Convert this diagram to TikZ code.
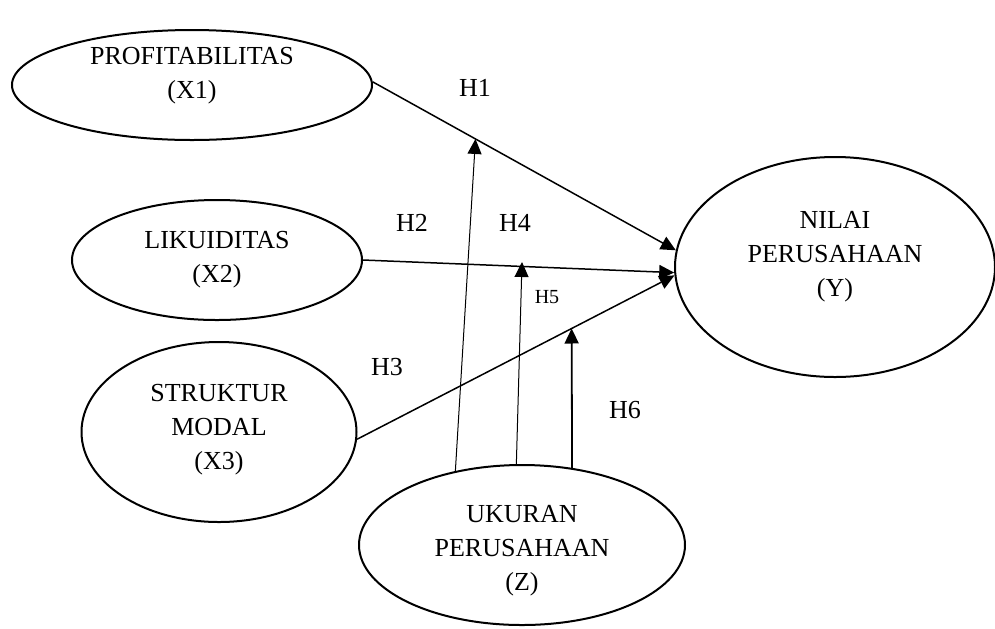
\documentclass[tikz,border=0pt]{standalone}
\usepackage{fontspec}
\setmainfont{Liberation Serif}
\usetikzlibrary{shapes.geometric,arrows.meta}
\begin{document}
\begin{tikzpicture}[x=0.5pt,y=-0.5pt,
  oval/.style={draw,ellipse,line width=1pt,inner sep=0pt},
  txt/.style={align=center,font=\fontsize{13}{17}\selectfont,inner sep=0pt},
  hlab/.style={font=\fontsize{13}{15}\selectfont,inner sep=0pt},
  hsmall/.style={font=\fontsize{10}{12}\selectfont,inner sep=0pt},
  tip/.style={-{Triangle[length=7.5pt,width=7pt]}},
  conn/.style={tip,line width=0.75pt},
  thinconn/.style={tip,line width=0.5pt},
  thickconn/.style={tip,line width=0.9pt}]
\useasboundingbox (0,0) rectangle (995,628);
% ellipses
\node[oval,minimum width=180pt,minimum height=55pt] (x1) at (192,85) {};
\node[oval,minimum width=145pt,minimum height=60pt] (x2) at (217,260) {};
\node[oval,minimum width=137.5pt,minimum height=90pt] (x3) at (219,432) {};
\node[oval,minimum width=160pt,minimum height=110pt] (y) at (835,267) {};
\node[oval,minimum width=163pt,minimum height=80pt] (z) at (522,545) {};
% texts
\node[txt] (x1t) at (192,76) {PROFITABILITAS\\(X1)};
\node[txt] (x2t) at (217,260) {LIKUIDITAS\\(X2)};
\node[txt] (x3t) at (219,430) {STRUKTUR\\MODAL\\(X3)};
\node[txt] (yt) at (835,257) {NILAI\\PERUSAHAAN\\(Y)};
\node[txt] (zt) at (522,551) {UKURAN\\PERUSAHAAN\\(Z)};
% main paths
\draw[conn] (x1.1) -- (y.174) coordinate[pos=0.339] (h1pt);
\draw[conn] (x2.east) -- (y.182);
\draw[conn] (x3.-3) -- (y.183) coordinate[pos=0.676] (h6pt);
\coordinate (h5pt) at (522,262);
% moderating paths
\draw[thinconn] (z.132) -- (h1pt);
\draw[thinconn] (z.94) -- (h5pt);
\draw[thickconn] (z.57) -- (h6pt);
% labels
\node[hlab] (lh1) at (475,88) {H1};
\node[hlab] (lh2) at (412,223) {H2};
\node[hlab] (lh4) at (515,223) {H4};
\node[hsmall] (lh5) at (547,297) {H5};
\node[hlab] (lh3) at (387,367) {H3};
\node[hlab] (lh6) at (625,410) {H6};
\end{tikzpicture}
\end{document}
